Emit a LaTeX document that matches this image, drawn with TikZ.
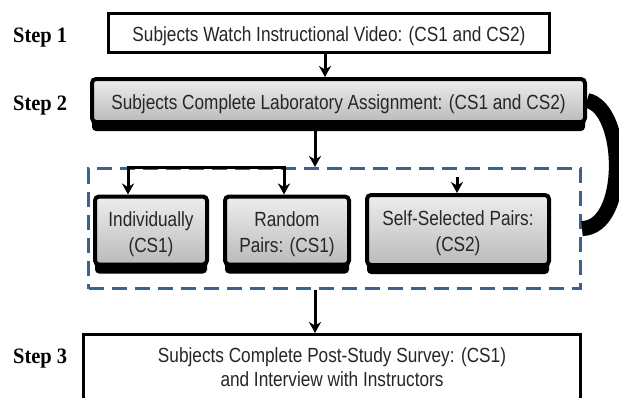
\documentclass[tikz,border=0pt]{standalone}
\usepackage{fontspec}
\setmainfont{Liberation Sans}
\newfontfamily\boxfont[FakeStretch=0.84]{Liberation Sans}
\newfontfamily\stepfont[FakeStretch=0.93]{Liberation Serif}
\usetikzlibrary{arrows.meta,shadows,calc}
\definecolor{dashblue}{RGB}{62,96,140}
\begin{document}
\begin{tikzpicture}[x=1pt,y=-1pt,
  >={Stealth[length=11pt,width=12pt,inset=3.5pt]},
  txt/.style={font=\boxfont\fontsize{20.5pt}{24pt}\selectfont, text=black!85, align=center, inner sep=0pt},
  smalltxt/.style={font=\boxfont\fontsize{20.5pt}{26pt}\selectfont, text height=43pt, text depth=0pt},
  plainbox/.style={txt, draw=black, line width=3pt, fill=white},
  graybox/.style={txt, draw=black, line width=4pt, rounded corners=4pt,
    top color=black!7, bottom color=black!27,
    drop shadow={shadow xshift=0pt, shadow yshift=-9pt, fill=black, opacity=1}},
  steplabel/.style={font=\stepfont\bfseries\fontsize{22pt}{24pt}\selectfont, anchor=base west, inner sep=0pt},
  groupbox/.style={draw=dashblue, line width=3pt, dash pattern=on 15pt off 8pt, inner sep=0pt},
  arr/.style={line width=3pt, ->},
  arrboth/.style={line width=3pt, <->},
  bigarc/.style={line width=15pt, line cap=butt},
]
\useasboundingbox (0,0) rectangle (619,397);
\clip (0,0) rectangle (619,397);
\fill[white] (0,0) rectangle (619,397);

% step labels
\node[steplabel] (s1) at (13,42) {Step 1};
\node[steplabel] (s2) at (13,110) {Step 2};
\node[steplabel] (s3) at (13,363) {Step 3};

% group
\node[groupbox, minimum width=492pt, minimum height=120pt] (grp) at (334.5,228.5) {};

% boxes
\node[plainbox, minimum width=441pt, minimum height=39pt, text height=16pt, text depth=0pt] (b1) at (329,33)
  {Subjects Watch Instructional Video: (CS1 and CS2)};
\node[graybox, minimum width=493pt, minimum height=43pt, text height=18pt, text depth=0pt] (b2) at (338.5,100.5)
  {Subjects Complete Laboratory Assignment: (CS1 and CS2)};
\node[graybox, smalltxt, minimum width=112pt, minimum height=68pt] (ind) at (151,230.5)
  {Individually\\(CS1)};
\node[graybox, smalltxt, minimum width=124pt, minimum height=68pt] (rnd) at (287,230.5)
  {Random\\Pairs: (CS1)};
\node[graybox, smalltxt, minimum width=182pt, minimum height=70pt] (sel) at (458,230)
  {Self-Selected Pairs:\\(CS2)};
\node[plainbox, anchor=north, minimum width=497pt, inner ysep=14pt, text height=38pt, text depth=20pt] (b3) at (332,333)
  {Subjects Complete Post-Study Survey: (CS1)\\and Interview with Instructors};

% connector x positions
\coordinate (xa) at (325,0);
\coordinate (xb) at (315,0);
\coordinate (pl) at (128,167);
\coordinate (pr) at (284,167);
\coordinate (ps) at (457,177);

% connectors
\draw[arr] (b1.south -| xa) -- (b2.north -| xa);
\draw[arr] (b2.south -| xb) -- (grp.north -| xb);
\draw[arrboth] (ind.north -| pl) -- (pl) -- (pr) -- (rnd.north -| pr);
\draw[arr] (ps) -- (sel.north -| ps);
\draw[arr] (grp.south -| xb) -- (b3.north -| xb);
\draw[bigarc] (b2.east) .. controls (626,108) and (628,228) .. (grp.east);
\end{tikzpicture}
\end{document}
